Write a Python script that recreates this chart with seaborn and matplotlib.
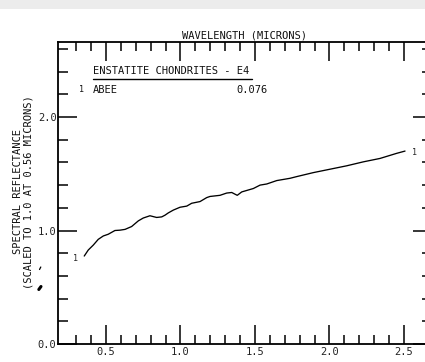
import numpy as np
import pandas as pd
import matplotlib
matplotlib.use("Agg")
import matplotlib.pyplot as plt
from matplotlib.lines import Line2D
from matplotlib.patches import Rectangle
from matplotlib.ticker import FixedLocator, NullFormatter
import seaborn as sns

# Reflectance spectrum of the Abee enstatite chondrite (E4), scaled to 1.0 at 0.56 um
wavelength = [0.354, 0.381, 0.415, 0.448, 0.482, 0.515, 0.560, 0.594, 0.628, 0.672,
              0.717, 0.750, 0.795, 0.840, 0.874, 0.896, 0.918, 0.952, 0.997, 1.042,
              1.075, 1.131, 1.176, 1.198, 1.265, 1.310, 1.344, 1.366, 1.381, 1.411,
              1.489, 1.534, 1.579, 1.646, 1.735, 1.780, 1.891, 2.003, 2.115, 2.227,
              2.339, 2.451, 2.507]
reflectance = [0.775, 0.828, 0.872, 0.922, 0.952, 0.967, 1.000, 1.003, 1.010, 1.035,
               1.085, 1.110, 1.130, 1.115, 1.120, 1.135, 1.155, 1.180, 1.205, 1.215,
               1.240, 1.255, 1.290, 1.300, 1.310, 1.330, 1.335, 1.320, 1.310, 1.340,
               1.370, 1.400, 1.410, 1.440, 1.460, 1.475, 1.510, 1.540, 1.570, 1.605,
               1.635, 1.680, 1.700]

group_title = "ENSTATITE CHONDRITES - E4"
sample_id = "1"
sample_name = "ABEE"
sample_value = "0.076"

x_major = [0.5, 1.0, 1.5, 2.0, 2.5]
x_minor = [0.3, 0.4, 0.6, 0.7, 0.8, 0.9, 1.1, 1.2, 1.3, 1.4, 1.6, 1.7, 1.8, 1.9,
           2.1, 2.2, 2.3, 2.4]
y_major = [0.0, 1.0, 2.0]
y_minor = [0.2, 0.4, 0.6, 0.8, 1.2, 1.4, 1.6, 1.8, 2.2, 2.4, 2.6]

df = pd.DataFrame({"wavelength": wavelength, "reflectance": reflectance})

sns.set_style("white")
plt.rcParams["font.family"] = ["DejaVu Sans Mono", "DejaVu Sans"]
FS = 7.5

W, H = 425, 362
fig = plt.figure(figsize=(W / 100, H / 100), dpi=100)


def fpx(x, y):
    """Pixel position (from top-left) to figure fraction."""
    return x / W, 1 - y / H


# light band along the top edge
fig.patches.append(Rectangle((0, 1 - 9 / H), 1, 9 / H, transform=fig.transFigure,
                             facecolor="#ececec", edgecolor="none", zorder=0))

left, top, right, bottom = 58, 42, 432, 344
ax = fig.add_axes([left / W, 1 - bottom / H, (right - left) / W, (bottom - top) / H])

sns.lineplot(data=df, x="wavelength", y="reflectance", ax=ax, color="black",
             linewidth=0.95, estimator=None, sort=False)

ax.set_xlim(0.1779, 2.688)
ax.set_ylim(0.0, 2.661)
ax.set_xlabel("")
ax.set_ylabel("")

ax.xaxis.set_major_locator(FixedLocator(x_major))
ax.xaxis.set_minor_locator(FixedLocator(x_minor))
ax.yaxis.set_major_locator(FixedLocator(y_major))
ax.yaxis.set_minor_locator(FixedLocator(y_minor))
ax.set_xticklabels([f"{v:.1f}" for v in x_major])
ax.set_yticklabels([f"{v:.1f}" for v in y_major])
ax.xaxis.set_minor_formatter(NullFormatter())
ax.yaxis.set_minor_formatter(NullFormatter())

ax.tick_params(which="both", direction="in", top=True, right=True, bottom=True, left=True,
               labeltop=False, labelright=False, color="black", width=1.1,
               labelsize=FS, labelcolor="#222222")
ax.tick_params(axis="x", which="major", length=13.5, pad=2.5)
ax.tick_params(axis="x", which="minor", length=6.8)
ax.tick_params(axis="y", which="major", length=13.5, pad=1)
ax.tick_params(axis="y", which="minor", length=7.2)

for s in ax.spines.values():
    s.set_color("black")
    s.set_linewidth(1.3)

# axis titles
fig.text(*fpx(245, 35), "WAVELENGTH (MICRONS)", ha="center", va="center",
         fontsize=FS, color="#111111")
fig.text(*fpx(18, 192), "SPECTRAL REFLECTANCE", ha="center", va="center",
         rotation=90, fontsize=FS, color="#111111")
fig.text(*fpx(29, 192), "(SCALED TO 1.0 AT 0.56 MICRONS)", ha="center", va="center",
         rotation=90, fontsize=FS, color="#111111")

# sample key
fig.text(*fpx(93, 71), group_title, ha="left", va="center", fontsize=FS, color="#111111")
fig.add_artist(Line2D([93 / W, 252 / W], [1 - 78.5 / H] * 2, transform=fig.transFigure,
                      color="black", linewidth=1.0))
fig.text(*fpx(81, 90), sample_id, ha="center", va="center", fontsize=FS - 1.5, color="#111111")
fig.text(*fpx(93, 90), sample_name, ha="left", va="center", fontsize=FS, color="#111111")
fig.text(*fpx(268, 90), sample_value, ha="right", va="center", fontsize=FS, color="#111111")

# curve identifiers at both ends
ax.annotate(sample_id, xy=(wavelength[0], reflectance[0]), xytext=(-9, -2),
            textcoords="offset pixels", ha="center", va="center", fontsize=FS - 1.5)
ax.annotate(sample_id, xy=(wavelength[-1], reflectance[-1]), xytext=(9, -1),
            textcoords="offset pixels", ha="center", va="center", fontsize=FS - 1.5)

# small pen marks beside the axis
fig.add_artist(Line2D([39.5 / W, 40.8 / W], [1 - 269.5 / H, 1 - 267 / H],
                      transform=fig.transFigure, color="black", linewidth=0.9))
fig.add_artist(Line2D([38.8 / W, 41 / W], [1 - 289.5 / H, 1 - 286.5 / H],
                      transform=fig.transFigure, color="black", linewidth=2.2,
                      solid_capstyle="round"))

fig.savefig("out.png", dpi=100)
